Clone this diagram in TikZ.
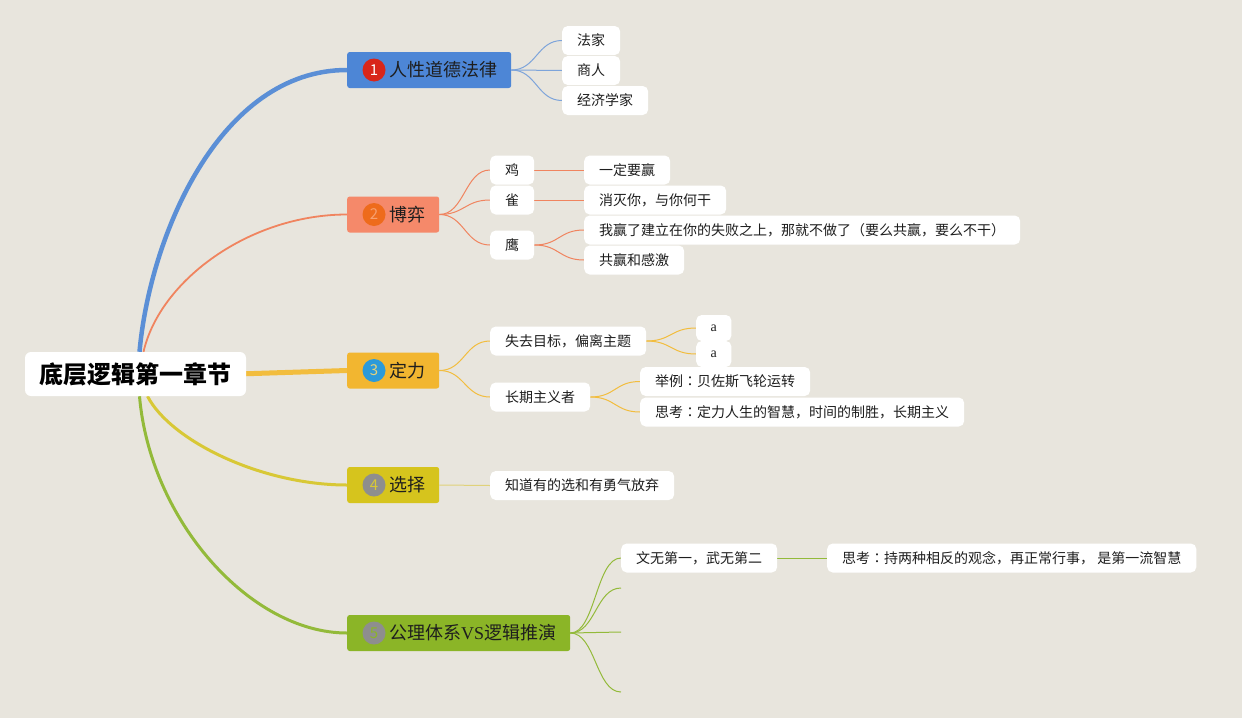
\documentclass[tikz,border=0pt]{standalone}
\usepackage{fontspec}
\setmainfont{Noto Sans CJK SC}
\newfontfamily\latinserif{Liberation Serif}
\newfontfamily\tcfont{Noto Sans CJK TC}
\newcommand\zcolon{{\tcfont ：}}
\pgfdeclarelayer{back}
\pgfdeclarelayer{bg}
\pgfsetlayers{back,bg,main}
\definecolor{bgc}{HTML}{E8E5DD}
\definecolor{textc}{HTML}{1E1E1E}
\definecolor{cblue}{HTML}{4D86D6}
\definecolor{lblue}{HTML}{5B8FD6}
\definecolor{tblue}{HTML}{7DA4DA}
\definecolor{corange}{HTML}{F5896A}
\definecolor{lorange}{HTML}{F0845F}
\definecolor{cgold}{HTML}{F2B630}
\definecolor{lgold}{HTML}{F2BD3E}
\definecolor{cyell}{HTML}{D6C41D}
\definecolor{lyell}{HTML}{D8C836}
\definecolor{tyell}{HTML}{E0D27A}
\definecolor{cgreen}{HTML}{8BB527}
\definecolor{lgreen}{HTML}{93BA3A}
\definecolor{nred}{HTML}{D8261A}
\definecolor{norange}{HTML}{EE6B1C}
\definecolor{norangetxt}{HTML}{F7A070}
\definecolor{nblue}{HTML}{2B9AD9}
\definecolor{nbluetxt}{HTML}{E6D27A}
\definecolor{ngray}{HTML}{8E8E8E}
\begin{document}
\begin{tikzpicture}[x=1pt,y=-1pt,
  sub/.style={fill=white, rounded corners=5.5pt, inner xsep=15pt, inner ysep=0pt, minimum height=29pt, font=\fontsize{14pt}{16pt}\selectfont, text=textc, anchor=west},
  subsmall/.style={sub, minimum height=26pt, inner xsep=14.5pt},
  mainbox/.style={rounded corners=2.5pt, inner xsep=14pt, inner ysep=0pt, minimum height=36pt, font=\fontsize{18pt}{20pt}\selectfont, anchor=west, text=textc},
  num/.style={circle, inner sep=0pt, minimum size=23pt, font=\fontsize{15pt}{16pt}\selectfont},
  rootbox/.style={fill=white, rounded corners=6pt, minimum width=221pt, minimum height=44pt, inner sep=0pt, font=\fontsize{24pt}{26pt}\selectfont\bfseries, text=black},
  thinline/.style={line width=1pt},
]
\begin{pgfonlayer}{back}
\fill[bgc] (0,0) rectangle (1242,718);
\end{pgfonlayer}
\useasboundingbox (0,0) rectangle (1242,718);

% root
\node[rootbox] (root) at (135.5,374) {底层逻辑第一章节};

% main topics
\node[mainbox, fill=cblue] (m1) at (347,70) {\hspace*{28pt}人性道德法律};
\node[num, fill=nred, text=white] (n1) at (374,70) {1};
\node[mainbox, fill=corange] (m2) at (347,214.5) {\hspace*{28pt}博弈};
\node[num, fill=norange, text=norangetxt] (n2) at (374,214.5) {2};
\node[mainbox, fill=cgold] (m3) at (347,370.5) {\hspace*{28pt}定力};
\node[num, fill=nblue, text=nbluetxt] (n3) at (374,370.5) {3};
\node[mainbox, fill=cyell] (m4) at (347,485) {\hspace*{28pt}选择};
\node[num, fill=ngray, text=lyell] (n4) at (374,485) {4};
\node[mainbox, fill=cgreen] (m5) at (347,633) {\hspace*{28pt}公理体系{\latinserif VS}逻辑推演};
\node[num, fill=ngray, text=cgreen] (n5) at (374,633) {5};

% branch 1
\node[sub] (fa) at (562,40.5) {法家};
\node[sub] (sh) at (562,70.5) {商人};
\node[sub] (jj) at (562,100.5) {经济学家};

% branch 2
\node[sub] (ji) at (490,170) {鸡};
\node[sub] (qu) at (490,200) {雀};
\node[sub] (ying) at (490,245) {鹰};
\node[sub] (yd) at (584,170) {一定要赢};
\node[sub] (xm) at (584,200) {消灭你，与你何干};
\node[sub] (wy) at (584,230) {我赢了建立在你的失败之上，那就不做了（要么共赢，要么不干）};
\node[sub] (gy) at (584,260) {共赢和感激};

% branch 3
\node[sub] (sq) at (490,341) {失去目标，偏离主题};
\node[sub] (cq) at (490,397) {长期主义者};
\node[subsmall] (a1) at (696,328) {\latinserif a};
\node[subsmall] (a2) at (696,354) {\latinserif a};
\node[sub] (jl) at (640,381.5) {举例\zcolon 贝佐斯飞轮运转};
\node[sub] (sk) at (640,412) {思考\zcolon 定力人生的智慧，时间的制胜，长期主义};

% branch 4
\node[sub] (zd) at (490,485.5) {知道有的选和有勇气放弃};

% branch 5
\node[sub] (ww) at (621,558) {文无第一，武无第二};
\node[sub] (sk2) at (827,558) {思考\zcolon 持两种相反的观念，再正常行事，\ 是第一流智慧};
\coordinate (e1) at (621,588);
\coordinate (e2) at (621,632);
\coordinate (e3) at (621,692);

\begin{pgfonlayer}{bg}
% root to main
\draw[lblue, line width=4.5pt] ([xshift=4pt]root.north) .. controls (150,235) and (220,70) .. (m1.west);
\draw[lorange, line width=1.8pt] ([xshift=8pt]root.north) .. controls (160,280) and (250,214.5) .. (m2.west);
\draw[lgold, line width=5pt] ([xshift=-8pt]root.east) -- (m3.west);
\draw[lyell, line width=3pt] ([xshift=12pt]root.south) .. controls (170,440) and (260,485) .. (m4.west);
\draw[lgreen, line width=3pt] ([xshift=4pt]root.south) .. controls (150,520) and (250,633) .. (m5.west);

% branch 1
\foreach \t in {fa,sh,jj}
  \draw[tblue, thinline] (m1.east) .. controls +(25,0) and +(-25,0) .. (\t.west);
% branch 2
\foreach \t in {ji,qu,ying}
  \draw[lorange, thinline] (m2.east) .. controls +(25,0) and +(-25,0) .. (\t.west);
\draw[lorange, thinline] (ji.east) -- (yd.west);
\draw[lorange, thinline] (qu.east) -- (xm.west);
\foreach \t in {wy,gy}
  \draw[lorange, thinline] (ying.east) .. controls +(25,0) and +(-25,0) .. (\t.west);
% branch 3
\foreach \t in {sq,cq}
  \draw[lgold, thinline] (m3.east) .. controls +(25,0) and +(-25,0) .. (\t.west);
\foreach \t in {a1,a2}
  \draw[lgold, thinline] (sq.east) .. controls +(25,0) and +(-25,0) .. (\t.west);
\foreach \t in {jl,sk}
  \draw[lgold, thinline] (cq.east) .. controls +(25,0) and +(-25,0) .. (\t.west);
% branch 4
\draw[tyell, thinline] (m4.east) -- (zd.west);
% branch 5
\draw[lgreen, thinline] (m5.east) .. controls +(25,0) and +(-25,0) .. (ww.west);
\draw[lgreen, thinline] (m5.east) .. controls +(25,0) and +(-25,0) .. (e1);
\draw[lgreen, thinline] (m5.east) -- (e2);
\draw[lgreen, thinline] (m5.east) .. controls +(25,0) and +(-25,0) .. (e3);
\draw[lgreen, thinline] (ww.east) -- (sk2.west);
\end{pgfonlayer}
\end{tikzpicture}
\end{document}
